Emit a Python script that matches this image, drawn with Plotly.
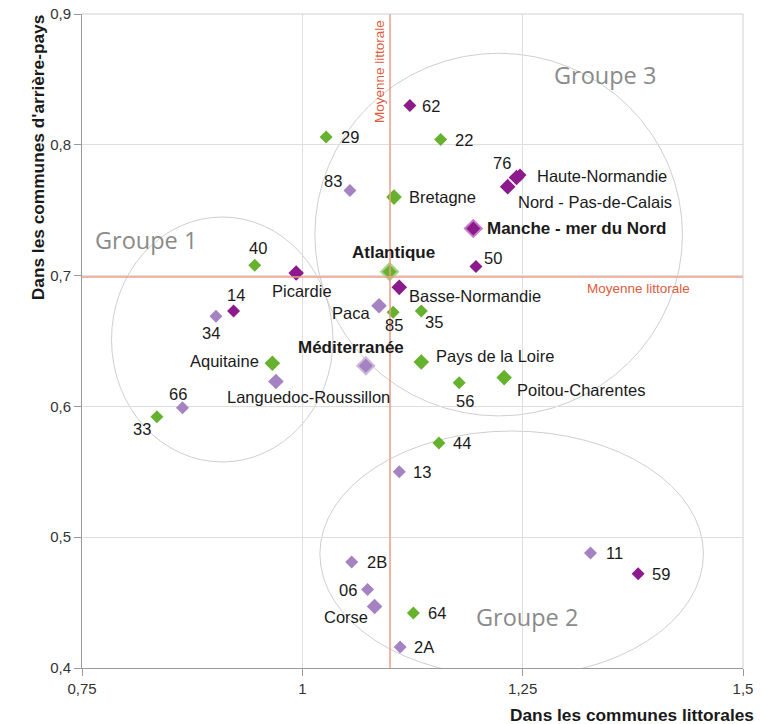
import plotly.graph_objects as go

# ---------------- data ----------------
names = ["62", "29", "22", "83", "Bretagne", "76", "Haute-Normandie", "Nord - Pas-de-Calais",
         "Manche - mer du Nord", "Atlantique", "50", "Basse-Normandie", "40", "Picardie", "14", "34",
         "Paca", "85", "35", "Méditerranée", "Aquitaine", "Languedoc-Roussillon", "Pays de la Loire",
         "56", "Poitou-Charentes", "66", "33", "44", "13", "11", "59", "2B", "06", "Corse", "64", "2A"]
x_littoral = [1.122, 1.027, 1.157, 1.054, 1.104, 1.247, 1.243, 1.233,
              1.194, 1.099, 1.197, 1.110, 0.946, 0.993, 0.922, 0.902,
              1.087, 1.103, 1.135, 1.072, 0.966, 0.970, 1.135,
              1.178, 1.229, 0.864, 0.835, 1.155, 1.110, 1.327, 1.381, 1.056, 1.074, 1.082, 1.126, 1.111]
y_arriere = [0.830, 0.806, 0.804, 0.765, 0.760, 0.777, 0.775, 0.768,
             0.736, 0.703, 0.707, 0.691, 0.708, 0.702, 0.673, 0.669,
             0.677, 0.672, 0.673, 0.631, 0.633, 0.619, 0.634,
             0.618, 0.622, 0.599, 0.592, 0.572, 0.550, 0.488, 0.472, 0.481, 0.460, 0.447, 0.442, 0.416]
facade = ["MN", "AT", "AT", "ME", "AT", "MN", "MN", "MN",
          "MN", "AT", "MN", "MN", "AT", "MN", "MN", "ME",
          "ME", "AT", "AT", "ME", "AT", "ME", "AT",
          "AT", "AT", "ME", "AT", "AT", "ME", "ME", "MN", "ME", "ME", "ME", "AT", "ME"]
level = ["dep", "dep", "dep", "dep", "reg", "dep", "reg", "reg",
         "fac", "fac", "dep", "reg", "dep", "reg", "dep", "dep",
         "reg", "dep", "dep", "fac", "reg", "reg", "reg",
         "dep", "reg", "dep", "dep", "dep", "dep", "dep", "dep", "dep", "dep", "reg", "dep", "dep"]
moyenne_x = 1.0995
moyenne_y = 0.699
x_ticks = [0.75, 1, 1.25, 1.5]
x_ticktext = ["0,75", "1", "1,25", "1,5"]
y_ticks = [0.4, 0.5, 0.6, 0.7, 0.8, 0.9]
y_ticktext = ["0,4", "0,5", "0,6", "0,7", "0,8", "0,9"]
groups = ["Groupe 1", "Groupe 2", "Groupe 3"]

# ---------------- styles ----------------
colors = {"MN": "#8c1a8c", "AT": "#66b22e", "ME": "#a582c2"}
halo = {"MN": "#c77bc7", "AT": "#a6d48a", "ME": "#cdb8de"}
sizes = {"dep": 10, "reg": 12, "fac": 13}

# label placement: (xanchor, xshift, yshift)
label_pos = {
    "62": ("left", 10, 0), "29": ("left", 13, 0), "22": ("left", 12, 0),
    "83": ("center", -17, 10), "Bretagne": ("left", 13, 0), "76": ("center", -18, 12),
    "Haute-Normandie": ("left", 18, 2), "Nord - Pas-de-Calais": ("left", 8, -15),
    "Manche - mer du Nord": ("left", 12, 0), "Atlantique": ("center", 4, 19),
    "50": ("left", 6, 8), "Basse-Normandie": ("left", 8, -9), "40": ("center", 3, 17),
    "Picardie": ("center", 6, -18), "14": ("center", 2, 16), "34": ("center", -5, -17),
    "Paca": ("right", -7, -7), "85": ("center", 1, -13), "35": ("left", 2, -11),
    "Méditerranée": ("center", -15, 18), "Aquitaine": ("right", -11, 2),
    "Languedoc-Roussillon": ("center", 33, -15), "Pays de la Loire": ("left", 13, 6),
    "56": ("center", 6, -18), "Poitou-Charentes": ("left", 11, -12), "66": ("center", -4, 14),
    "33": ("center", -15, -12), "44": ("left", 12, 0), "13": ("left", 12, 0),
    "11": ("left", 13, 0), "59": ("left", 12, 0), "2B": ("left", 13, 0),
    "06": ("right", -9, 0), "Corse": ("center", -29, -10), "64": ("left", 13, 0),
    "2A": ("left", 12, 0),
}
group_pos = {"Groupe 1": (0.823, 0.727), "Groupe 2": (1.255, 0.439), "Groupe 3": (1.343, 0.853)}
ellipses = {
    "Groupe 1": (0.7835, 0.5575, 1.0347, 0.7448),
    "Groupe 2": (1.0199, 0.3931, 1.4551, 0.5812),
    "Groupe 3": (1.0142, 0.5927, 1.4313, 0.8700),
}

fig = go.Figure()

shapes = []
for g in groups:
    x0, y0, x1, y1 = ellipses[g]
    shapes.append(dict(type="circle", xref="x", yref="y", x0=x0, y0=y0, x1=x1, y1=y1,
                       line=dict(color="#cfcfcf", width=1), layer="below"))
shapes.append(dict(type="line", xref="x", yref="paper", x0=moyenne_x, x1=moyenne_x, y0=0, y1=1,
                   line=dict(color="#ec9c86", width=1.5), layer="above"))
shapes.append(dict(type="line", xref="paper", yref="y", x0=0, x1=1, y0=moyenne_y, y1=moyenne_y,
                   line=dict(color="#ec9c86", width=1.5), layer="above"))
shapes.append(dict(type="line", xref="paper", yref="paper", x0=0, x1=1, y0=1, y1=1,
                   line=dict(color="#d0d0d0", width=1)))
shapes.append(dict(type="line", xref="paper", yref="paper", x0=1, x1=1, y0=0, y1=1,
                   line=dict(color="#d0d0d0", width=1)))

order = ["dep", "reg", "fac"]
for lv in order:
    for fc in ["ME", "AT", "MN"]:
        idx = [i for i in range(len(names)) if level[i] == lv and facade[i] == fc]
        if not idx:
            continue
        lw = 2 if lv == "fac" else 0
        fig.add_trace(go.Scatter(
            x=[x_littoral[i] for i in idx], y=[y_arriere[i] for i in idx],
            mode="markers", hoverinfo="text", text=[names[i] for i in idx],
            marker=dict(symbol="diamond", size=sizes[lv], color=colors[fc],
                        line=dict(color=halo[fc], width=lw)),
            showlegend=False))

annotations = []
for i, n in enumerate(names):
    anc, xs, ys = label_pos[n]
    bold = level[i] == "fac"
    annotations.append(dict(
        x=x_littoral[i], y=y_arriere[i], xref="x", yref="y",
        text=f"<b>{n}</b>" if bold else n, showarrow=False,
        xanchor=anc, yanchor="middle", xshift=xs, yshift=ys,
        font=dict(family="Liberation Sans, Arial", size=16.5 if not bold else 17, color="#1a1a1a")))

for g in groups:
    gx, gy = group_pos[g]
    annotations.append(dict(x=gx, y=gy, xref="x", yref="y", text=g, showarrow=False,
                            xanchor="center", yanchor="middle",
                            font=dict(family="Open Sans", size=23.5, color="#8a8a8a")))

annotations.append(dict(x=moyenne_x, y=0.856, xref="x", yref="y", text="Moyenne littorale",
                        showarrow=False, textangle=-90, xanchor="right", yanchor="middle", xshift=-1,
                        font=dict(family="Liberation Sans, Arial", size=13.5, color="#e05b3c")))
annotations.append(dict(x=1.381, y=moyenne_y, xref="x", yref="y", text="Moyenne littorale",
                        showarrow=False, yanchor="top", yshift=-2,
                        font=dict(family="Liberation Sans, Arial", size=13.5, color="#e05b3c")))

annotations.append(dict(x=-0.0666, y=0.781, xref="paper", yref="paper",
                        text="<b>Dans les communes d'arrière-pays</b>", showarrow=False,
                        textangle=-90, xanchor="center", yanchor="middle",
                        font=dict(family="Liberation Sans, Arial", size=17.3, color="#1a1a1a")))
annotations.append(dict(x=1.0197, y=-0.0719, xref="paper", yref="paper",
                        text="<b>Dans les communes littorales</b>", showarrow=False,
                        xanchor="right", yanchor="middle",
                        font=dict(family="Liberation Sans, Arial", size=17.3, color="#1a1a1a")))

fig.update_layout(
    width=762, height=724,
    margin=dict(l=82, r=19, t=14, b=56, autoexpand=False),
    plot_bgcolor="white", paper_bgcolor="white",
    shapes=shapes, annotations=annotations,
    xaxis=dict(range=[0.75, 1.5], tickvals=x_ticks, ticktext=x_ticktext, automargin=False,
               showgrid=True, gridcolor="#dedede", gridwidth=1, zeroline=False,
               showline=True, linecolor="#9a9a9a", linewidth=1,
               ticks="outside", ticklen=7, tickcolor="#9a9a9a",
               tickfont=dict(family="Liberation Sans, Arial", size=15, color="#333")),
    yaxis=dict(range=[0.4, 0.9], tickvals=y_ticks, ticktext=y_ticktext, automargin=False,
               showgrid=True, gridcolor="#dedede", gridwidth=1, zeroline=False,
               showline=True, linecolor="#9a9a9a", linewidth=1,
               ticks="outside", ticklen=7, tickcolor="#9a9a9a",
               tickfont=dict(family="Liberation Sans, Arial", size=15, color="#333")),
)

fig.write_html("out.html", config={"displayModeBar": False},
               post_script="document.body.style.margin='0px';document.body.style.overflow='hidden';")
